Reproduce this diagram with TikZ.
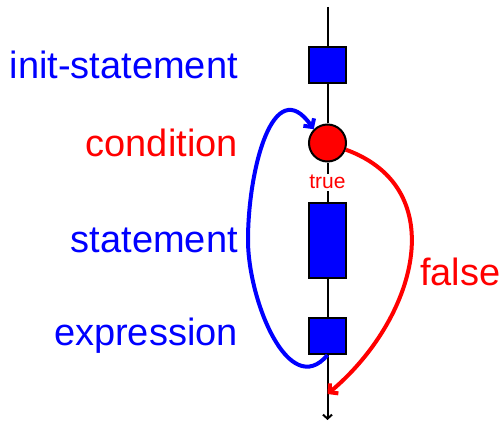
\documentclass[tikz,border=0pt]{standalone}
\usepackage{fontspec}
\setmainfont{Liberation Sans}
\usetikzlibrary{arrows.meta,positioning}
\definecolor{loopblue}{RGB}{0,0,255}
\definecolor{condred}{RGB}{255,0,0}
\tikzset{
  block/.style={draw=black, line width=2pt, fill=loopblue,
               minimum width=37pt, minimum height=36pt, inner sep=0pt},
  decision/.style={circle, draw=black, line width=2pt, fill=condred,
               minimum size=37pt, inner sep=0pt},
  partlabel/.style={font=\fontsize{38}{44}\selectfont, inner sep=0pt},
  truelabel/.style={font=\fontsize{21}{24}\selectfont, text=condred,
               fill=white, inner sep=1.5pt},
  spine/.style={line width=2pt, -{Straight Barb[length=4pt,width=9pt]}},
  backflow/.style={line width=4pt, loopblue, -{Straight Barb[length=6pt,width=13pt]}},
  exitflow/.style={line width=4pt, condred, -{Straight Barb[length=6pt,width=13pt]}},
}
\begin{document}
\begin{tikzpicture}[x=1pt, y=1pt]
  \useasboundingbox (0,0) rectangle (501,424);

  \coordinate (entry) at (327.5,417);
  \node[block] (init) at (327.5,359) {};
  \node[decision, below=39.5pt of init] (cond) {};
  \node[block, minimum height=75pt, below=39.5pt of cond] (stmt) {};
  \node[block, below=38pt of stmt] (expr) {};
  \coordinate (exit) at (327.5,4);

  \node[partlabel, text=loopblue, left=70pt of init] (initlbl) {init-statement};
  \node[partlabel, text=condred, left=70pt of cond] (condlbl) {condition};
  \node[partlabel, text=loopblue, left=70pt of stmt] (stmtlbl) {statement};
  \node[partlabel, text=loopblue, left=70pt of expr] (exprlbl) {expression};
  \node[partlabel, text=condred, anchor=base west] (falselbl) at (420,139) {false};

  \draw[spine] (entry) -- (init) -- (cond) -- node[truelabel] (truelbl) {true} (stmt) -- (expr) -- (exit);

  % loop back and exit
  \coordinate (loopwest) at (248,184);
  \coordinate (rejoin) at (327.5,30);
  \draw[backflow] (expr.south) to[out=-130, in=-90, looseness=1.1] (loopwest)
    to[out=90, in=125, looseness=1.4] (cond.135);
  \draw[exitflow] (cond.-20) to[out=-20, in=40, looseness=1.2] (rejoin);

\end{tikzpicture}
\end{document}
